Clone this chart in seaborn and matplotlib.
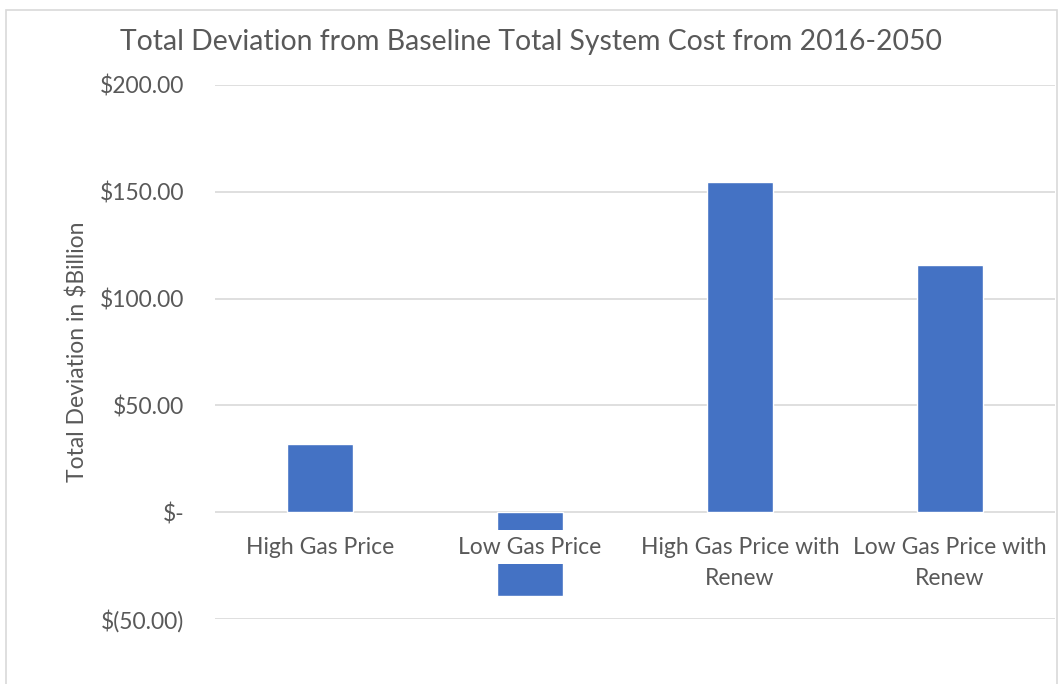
import matplotlib
matplotlib.use("Agg")
import matplotlib.pyplot as plt
from matplotlib.patches import Rectangle
import seaborn as sns
import pandas as pd

# Scenario results: deviation from the baseline total system cost, 2016-2050 ($ billion)
scenarios = [
    "High Gas Price",
    "Low Gas Price",
    "High Gas Price with\nRenew",
    "Low Gas Price with\nRenew",
]
deviation = [31.8, -39.2, 154.8, 115.5]
y_ticks = [-50, 0, 50, 100, 150, 200]
y_tick_labels = ["$(50.00)", "$-", "$50.00", "$100.00", "$150.00", "$200.00"]

TITLE = "Total Deviation from Baseline Total System Cost from 2016-2050"
Y_LABEL = "Total Deviation in $Billion"

BAR = "#4472C4"
TEXT = "#595959"
GRID = "#D9D9D9"

sns.set_theme(style="white")
plt.rcParams["font.family"] = ["Lato", "DejaVu Sans"]

df = pd.DataFrame({"scenario": scenarios, "deviation": deviation})

fig = plt.figure(figsize=(10.58, 6.84), dpi=100)
ax = fig.add_axes([215 / 1058, 1 - 619 / 684, (1055 - 215) / 1058, (619 - 85) / 684])

sns.barplot(data=df, x="scenario", y="deviation", color=BAR, width=0.315,
            saturation=1, ax=ax, zorder=2)

ax.set_ylim(-50, 200)
ax.set_xlim(-0.5, len(scenarios) - 0.5)
ax.set_yticks(y_ticks)
ax.set_yticklabels(y_tick_labels, fontsize=16.5, color=TEXT)
ax.tick_params(axis="y", length=0, pad=22)
ax.set_xticks([])
ax.set_xlabel("")
ax.set_ylabel(Y_LABEL, fontsize=16.5, color=TEXT, labelpad=8)
ax.yaxis.grid(True, color=GRID, lw=1.2)
ax.set_axisbelow(True)
for s in ax.spines.values():
    s.set_visible(False)

# Category labels sit just under the zero line, masking the bars behind them
for i, name in enumerate(scenarios):
    ax.annotate(name, xy=(i, 0), xytext=(0, -17.5), textcoords="offset points",
                ha="center", va="top", fontsize=16.5, color=TEXT,
                linespacing=1.62, zorder=4,
                bbox=dict(boxstyle="square,pad=0.28", fc="white", ec="none"))

fig.text(0.502, 1 - 42 / 684, TITLE, ha="center", va="center",
         fontsize=20.4, color=TEXT)

# Light chart-area frame
fig.patches.append(Rectangle((6 / 1058, -0.05), (1057 - 6) / 1058, 1.05 - 10 / 684,
                             transform=fig.transFigure, fill=False,
                             ec=GRID, lw=1.2))

fig.savefig("out.png", dpi=100, facecolor="white")
